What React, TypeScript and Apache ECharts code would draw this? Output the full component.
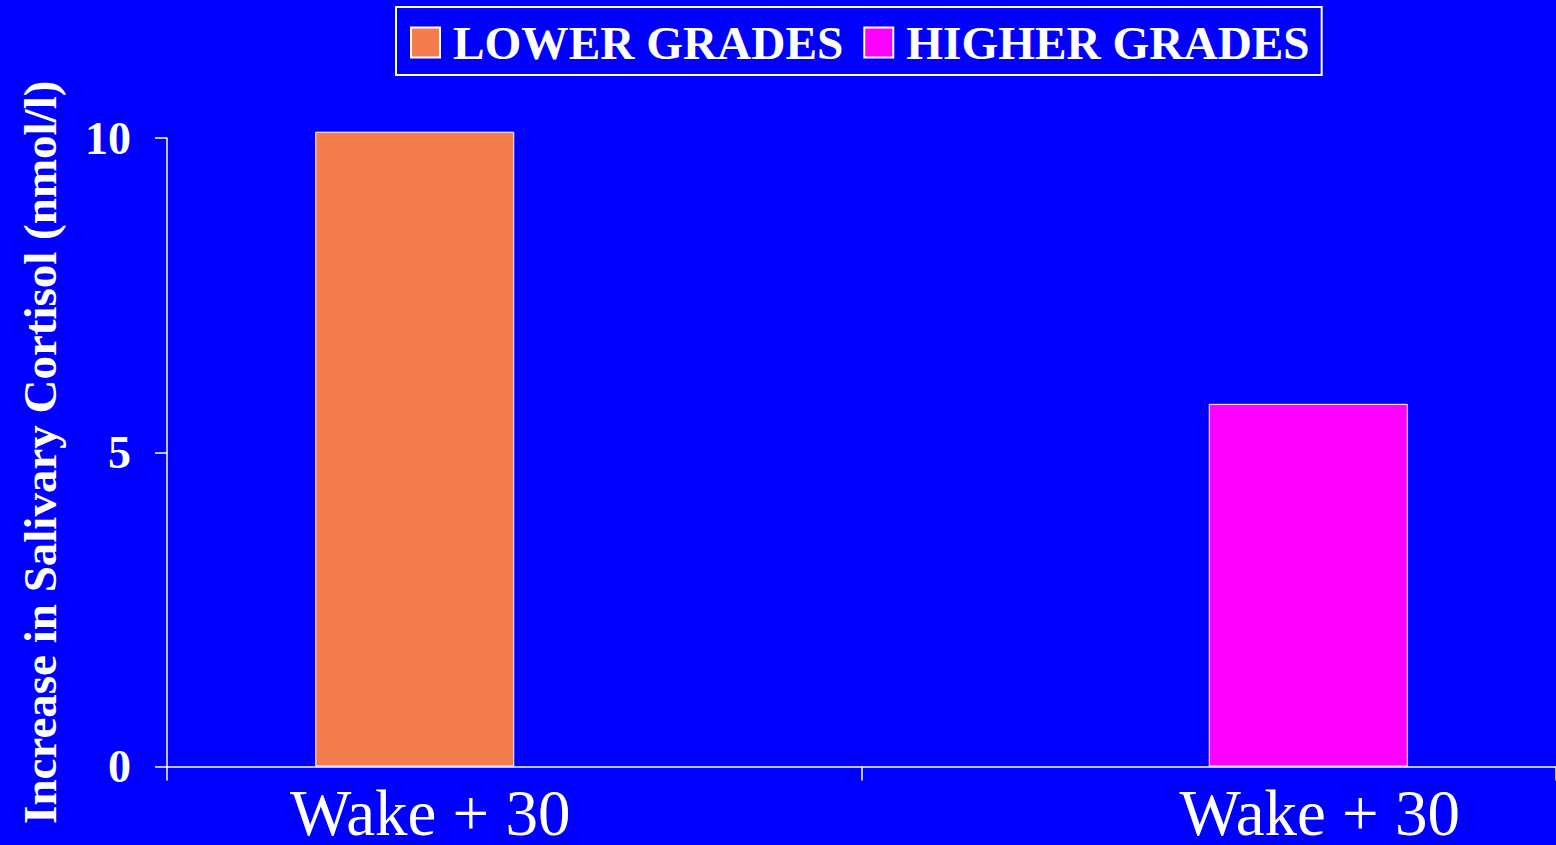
import React, { useEffect, useRef } from "react";
import * as echarts from "echarts";

const categories = ["Wake + 30", "Wake + 30"];
const seriesNames = ["LOWER GRADES", "HIGHER GRADES"];
const lowerGrades: (number | string)[] = [10.1, "-"];
const higherGrades: (number | string)[] = ["-", 5.77];
const yTicks = [0, 5, 10];

export default function App() {
  const ref = useRef<HTMLDivElement>(null);
  useEffect(() => {
    if (!ref.current) return;
    const chart = echarts.init(ref.current, null, { renderer: "svg" });
    const serif = "'Liberation Serif', 'Times New Roman', serif";
    chart.setOption({
      animation: false,
      backgroundColor: "#0000FF",
      legend: {
        left: 396,
        top: 7,
        padding: [12, 12, 9, 14],
        itemGap: 20,
        itemWidth: 29,
        itemHeight: 30,
        borderColor: "#ffffff",
        borderWidth: 2,
        icon: "rect",
        data: seriesNames,
        textStyle: {
          color: "#ffffff",
          fontFamily: serif,
          fontWeight: "bold",
          fontSize: 47.3,
          padding: [0, 0, 0, 8],
        },
      },
      grid: { left: 167, right: 0, top: 138, bottom: 73, containLabel: false },
      xAxis: {
        type: "category",
        data: categories,
        axisLine: { lineStyle: { color: "#ffffff", width: 1.5 } },
        axisTick: { show: true, length: 14, lineStyle: { color: "#ffffff", width: 1.5 } },
        axisLabel: {
          interval: 0,
          margin: 21,
          color: "#ffffff",
          fontFamily: serif,
          fontSize: 65,
          lineHeight: 50,
          formatter: (v: string, i: number) => (i === 0 ? `{a|${v}}` : `{b|${v}}`),
          rich: {
            a: { color: "#ffffff", fontFamily: serif, fontSize: 65, lineHeight: 50, padding: [0, 168, 0, 0] },
            b: { color: "#ffffff", fontFamily: serif, fontSize: 65, lineHeight: 50, padding: [0, 0, 0, 222] },
          },
        },
      },
      yAxis: {
        type: "value",
        min: yTicks[0],
        max: yTicks[yTicks.length - 1],
        interval: yTicks[1] - yTicks[0],
        name: "Increase in Salivary Cortisol (nmol/l)",
        nameLocation: "middle",
        nameGap: 104,
        nameTextStyle: {
          color: "#ffffff",
          fontFamily: serif,
          fontWeight: "bold",
          fontSize: 47,
        },
        axisLine: { show: true, lineStyle: { color: "#ffffff", width: 1.5 } },
        axisTick: { show: true, length: 12, lineStyle: { color: "#ffffff", width: 1.5 } },
        splitLine: { show: false },
        axisLabel: {
          margin: 36,
          color: "#ffffff",
          fontFamily: serif,
          fontWeight: "bold",
          fontSize: 46,
        },
      },
      series: [
        {
          name: seriesNames[0],
          type: "bar",
          data: lowerGrades,
          barWidth: 199,
          barGap: "0%",
          clip: false,
          itemStyle: { color: "#F47D4F", borderColor: "#ffffff", borderWidth: 1 },
        },
        {
          name: seriesNames[1],
          type: "bar",
          data: higherGrades,
          barWidth: 199,
          barGap: "0%",
          clip: false,
          itemStyle: { color: "#FF00FF", borderColor: "#ffffff", borderWidth: 1 },
        },
      ],
    });
    return () => chart.dispose();
  }, []);
  return (
    <div
      ref={ref}
      style={{ position: "absolute", left: 0, top: 0, width: 1556, height: 845 }}
    />
  );
}
